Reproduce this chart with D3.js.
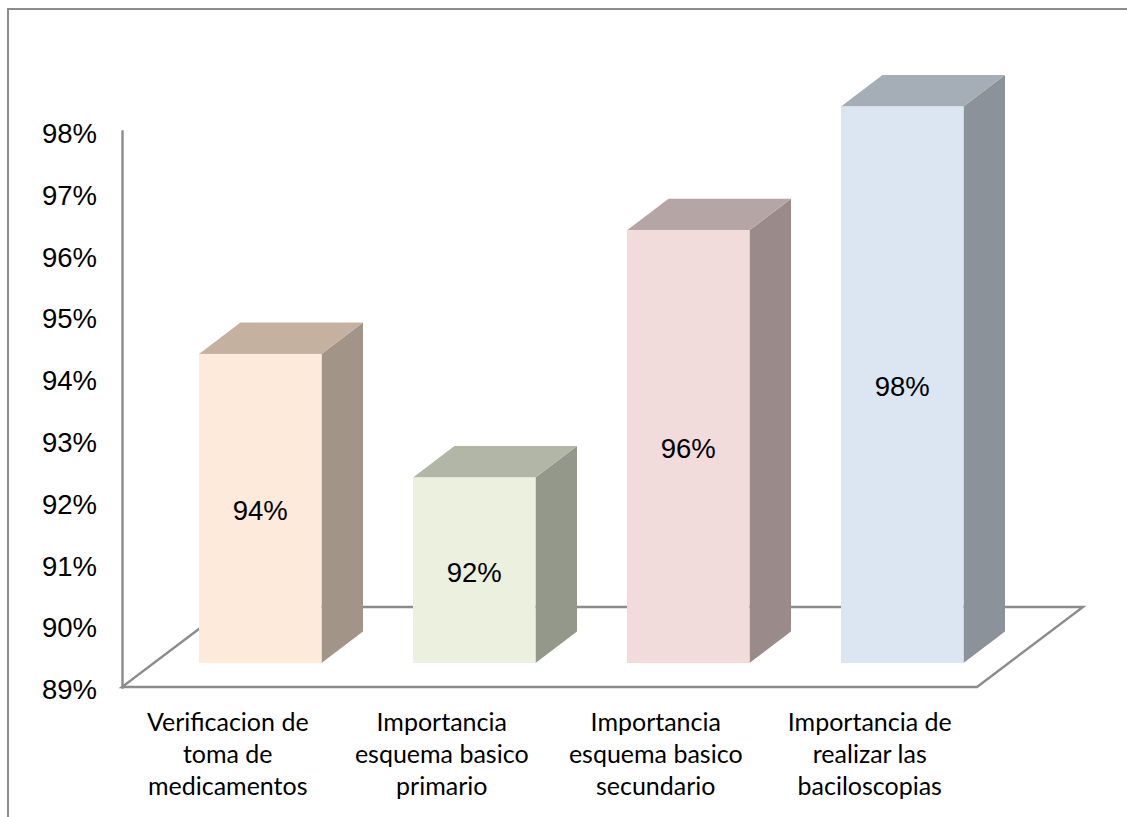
<!DOCTYPE html>
<html>
<head>
<meta charset="utf-8">
<script src="https://cdn.jsdelivr.net/npm/d3@7"></script>
<style>
html,body{margin:0;padding:0;background:#fff;overflow:hidden}
svg{display:block}
</style>
</head>
<body>
<svg id="chart" width="1127" height="817"></svg>
<script>
const categories = [
  ["Verificacion de", "toma de", "medicamentos"],
  ["Importancia", "esquema basico", "primario"],
  ["Importancia", "esquema basico", "secundario"],
  ["Importancia de", "realizar las", "baciloscopias"]
];
const values = [94, 92, 96, 98];
const tickValues = [89, 90, 91, 92, 93, 94, 95, 96, 97, 98];
const frontColors = ["#FDEADA", "#EBF1DE", "#F2DCDB", "#DCE6F2"];
const sideColors = ["#A29588", "#94988A", "#9A8B8A", "#8B9299"];
const topColors = ["#C4B1A0", "#B2B6A7", "#B6A5A5", "#A5AEB6"];

const svg = d3.select("#chart");
const gray = "#8c8c8c";
const sans = "'Liberation Sans', Arial, sans-serif";

// Outer chart frame, open on the right and bottom
svg.append("path")
  .attr("d", "M8,817V9H1127")
  .attr("fill", "none").attr("stroke", gray).attr("stroke-width", 2);

// Scales: wall axis, bar fronts (set forward on the floor), bar positions
const yAxisScale = d3.scaleLinear().domain([89, 98]).range([687, 131]);
const yFront = d3.scaleLinear().domain([89, 98]).range([663, 106.6]);
const x = d3.scaleBand().domain(d3.range(values.length))
  .range([199, 963.5]).paddingInner(0.4276).paddingOuter(0);

const depth = { dx: 41.5, dy: -31.5 };

// Floor parallelogram
const floor = { x0: 122, x1: 977, y0: yAxisScale(89), dx: 106, dy: -80 };
svg.append("path")
  .attr("d", `M${floor.x0},${floor.y0}H${floor.x1}l${floor.dx},${floor.dy}H${floor.x0 + floor.dx}Z`)
  .attr("fill", "none").attr("stroke", gray).attr("stroke-width", 2.4)
  .attr("stroke-linejoin", "miter");

// Value axis
const axis = d3.axisLeft(yAxisScale)
  .tickValues(tickValues).tickFormat(d => d + "%")
  .tickSize(0).tickPadding(25);
const axisG = svg.append("g").attr("transform", "translate(122,0)").call(axis);
axisG.select(".domain").attr("stroke", gray).attr("stroke-width", 2.4)
  .attr("stroke-linecap", "square");
axisG.selectAll("text")
  .attr("dy", "0.42em")
  .attr("font-family", sans).attr("font-size", 27.5).attr("fill", "#000");

// Bars: right side, top, front
const bars = svg.append("g").selectAll("g").data(values).join("g");
bars.append("path")
  .attr("fill", (d, i) => sideColors[i])
  .attr("d", (d, i) => {
    const r = x(i) + x.bandwidth();
    return `M${r},${yFront(d)}l${depth.dx},${depth.dy}V${yFront(89) + depth.dy}L${r},${yFront(89)}Z`;
  });
bars.append("path")
  .attr("fill", (d, i) => topColors[i])
  .attr("d", (d, i) => `M${x(i)},${yFront(d)}l${depth.dx},${depth.dy}h${x.bandwidth()}l${-depth.dx},${-depth.dy}Z`);
bars.append("rect")
  .attr("fill", (d, i) => frontColors[i])
  .attr("x", (d, i) => x(i))
  .attr("y", d => yFront(d))
  .attr("width", x.bandwidth())
  .attr("height", d => yFront(89) - yFront(d));

// Value labels centred on each front face
bars.append("text")
  .attr("x", (d, i) => x(i) + x.bandwidth() / 2)
  .attr("y", d => (yFront(d) + yFront(89)) / 2 + 11.5)
  .attr("text-anchor", "middle")
  .attr("font-family", sans).attr("font-size", 27.5).attr("fill", "#000")
  .text(d => d + "%");

// Category labels, three lines each, centred on the floor's front edge slots
const labelShift = -32.5;
const catLabels = svg.append("g").selectAll("text").data(categories).join("text")
  .attr("text-anchor", "middle")
  .attr("font-family", "Lato, Carlito, sans-serif").attr("font-size", 25).attr("fill", "#000");
catLabels.selectAll("tspan").data((d, i) => d.map(line => ({ line, i }))).join("tspan")
  .attr("x", d => x(d.i) + x.bandwidth() / 2 + labelShift)
  .attr("y", (d, j) => 730.5 + j * 32)
  .text(d => d.line);
</script>
</body>
</html>
